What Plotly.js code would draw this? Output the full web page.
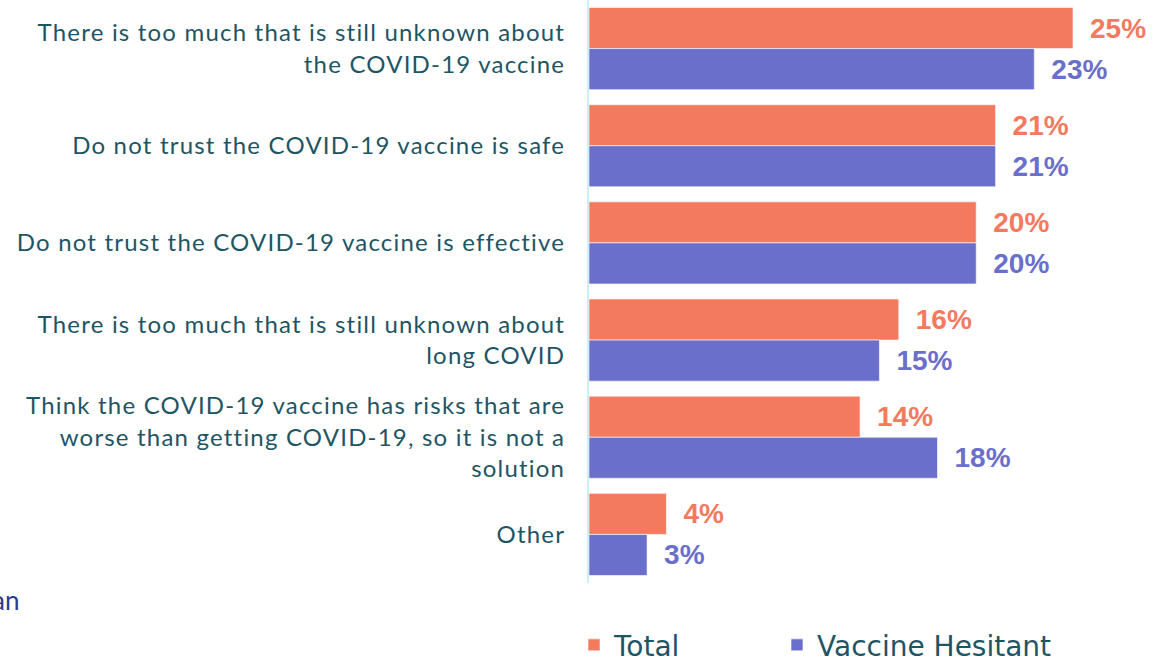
<!DOCTYPE html>
<html>
<head>
<meta charset="utf-8">
<script src="https://cdn.plot.ly/plotly-3.0.1.min.js"></script>
<style>
html,body{margin:0;padding:0;background:#fff}
#chart{width:1153px;height:659px}
#chart .ytick text{letter-spacing:1.2px}
</style>
</head>
<body>
<div id="chart"></div>
<script>
const categories = [
  "There is too much that is still unknown about<br>the COVID-19 vaccine",
  "Do not trust the COVID-19 vaccine is safe",
  "Do not trust the COVID-19 vaccine is effective",
  "There is too much that is still unknown about<br>long COVID",
  "Think the COVID-19 vaccine has risks that are<br>worse than getting COVID-19, so it is not a<br>solution",
  "Other"
];
const seriesNames = ["Total", "Vaccine Hesitant"];
const totalValues = [25, 21, 20, 16, 14, 4];
const hesitantValues = [23, 21, 20, 15, 18, 3];
const strayText = "an";

const ORANGE = "#F37A5E";
const BLUE = "#6A6FCB";
const TEAL = "#1E5564";

function barTrace(name, vals, color, legendId) {
  return {
    type: "bar", orientation: "h", name: name, legend: legendId,
    y: categories, x: vals,
    marker: {color: color, line: {color: "rgba(255,255,255,0.6)", width: 1}},
    texttemplate: "\u2002%{x}%",
    textposition: "outside",
    cliponaxis: false,
    textfont: {family: "Liberation Sans, Arial, sans-serif", size: 28, color: color, weight: "bold"},
    hoverinfo: "skip"
  };
}

const data = [
  barTrace(seriesNames[0], totalValues, ORANGE, "legend"),
  barTrace(seriesNames[1], hesitantValues, BLUE, "legend2")
];

const legendFont = {family: "DejaVu Sans, sans-serif", size: 28, color: TEAL};
function legendBox(xpx) {
  return {
    orientation: "h", xref: "container", yref: "container",
    x: xpx / 1153, xanchor: "left", y: 0.021, yanchor: "middle",
    font: legendFont, bgcolor: "rgba(0,0,0,0)"
  };
}

const layout = {
  width: 1153, height: 659,
  margin: {l: 589, r: 0, t: 0, b: 76},
  paper_bgcolor: "#fff", plot_bgcolor: "#fff",
  barmode: "group", bargap: 0.155, bargroupgap: 0,
  showlegend: true,
  legend: legendBox(574),
  legend2: legendBox(777),
  xaxis: {range: [0, 29.13], showgrid: false, zeroline: false, showticklabels: false, showline: false, fixedrange: true},
  yaxis: {
    type: "category", autorange: "reversed",
    showline: true, linecolor: "#CDEEF5", linewidth: 2,
    ticks: "", ticklabelstandoff: 17, showgrid: false,
    tickfont: {family: "Lato, sans-serif", size: 24, color: TEAL}
  },
  annotations: [{
    text: strayText, xref: "paper", yref: "paper",
    x: (21 - 589) / 564, xanchor: "right",
    y: (659 - 76 - 600) / 583, yanchor: "middle",
    showarrow: false,
    font: {family: "Lato, sans-serif", size: 26, color: "#2E3A8E"}
  }]
};

Plotly.newPlot("chart", data, layout, {displayModeBar: false, staticPlot: true});
</script>
</body>
</html>
